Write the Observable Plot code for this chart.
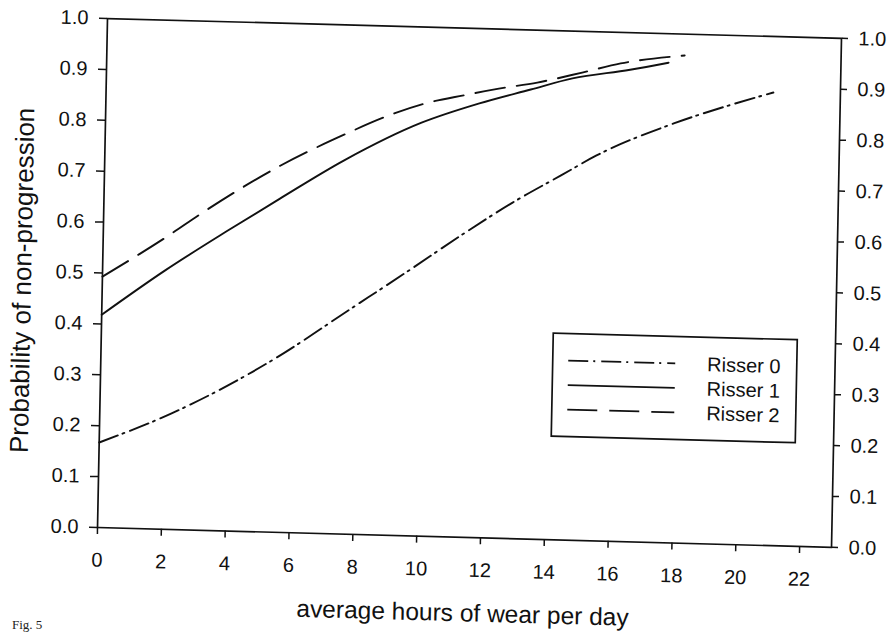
<!DOCTYPE html>
<html><head><meta charset="utf-8">
<script src="https://cdn.jsdelivr.net/npm/d3@7"></script>
<script src="https://cdn.jsdelivr.net/npm/@observablehq/plot@0.6"></script>
<style>
html,body{margin:0;padding:0;background:#fff;width:896px;height:634px;overflow:hidden}
#wrap{position:absolute;left:0;top:0;width:896px;height:634px;transform-origin:0 0;transform:matrix(1,0.027,-0.0196,1,0,0)}
#fig{position:absolute;left:12px;top:618px;font:13px "Liberation Serif","Times New Roman",serif;line-height:1;color:#222}
</style></head><body>
<div id="wrap"></div>
<div id="fig">Fig. 5</div>
<script>
// ---- data ----
const seriesNames = ["Risser 0", "Risser 1", "Risser 2"];

const risser0Hours = [0, 2.25, 4, 5.5, 7.8, 9.5, 11.3, 12.8, 14.3, 15.4, 17.8, 19.5, 20.9];
const risser0Prob  = [0.167, 0.228, 0.286, 0.343, 0.443, 0.517, 0.597, 0.66, 0.716, 0.757, 0.824, 0.862, 0.89];

const risser1Hours = [0, 1.95, 3.9, 5.5, 7.5, 9.9, 11.7, 13.3, 14.6, 16.4, 17.6];
const risser1Prob  = [0.418, 0.508, 0.59, 0.655, 0.734, 0.812, 0.853, 0.883, 0.907, 0.927, 0.943];

const risser2Hours = [0, 2, 3.1, 5.5, 7.5, 8.85, 10, 11.2, 12.3, 13.5, 14.9, 16.1, 18.1];
const risser2Prob  = [0.493, 0.575, 0.624, 0.72, 0.785, 0.824, 0.85, 0.868, 0.883, 0.897, 0.919, 0.939, 0.958];

const xTicks = [0, 2, 4, 6, 8, 10, 12, 14, 16, 18, 20, 22];
const yTicks = [0, 0.1, 0.2, 0.3, 0.4, 0.5, 0.6, 0.7, 0.8, 0.9, 1.0];
const xLabel = "average hours of wear per day";
const yLabel = "Probability of non-progression";

// ---- styles ----
const dashBySeries = {"Risser 0": "20,5,2,6", "Risser 1": null, "Risser 2": "30,12"};
const ink = "#111";
const font = "'Liberation Sans', Arial, Helvetica, sans-serif";

const hoursBySeries = [risser0Hours, risser1Hours, risser2Hours];
const probBySeries = [risser0Prob, risser1Prob, risser2Prob];
const rows = seriesNames.flatMap((s, i) =>
  hoursBySeries[i].map((h, j) => ({series: s, hours: h, prob: probBySeries[i][j]})));

const W = 896, H = 634;
const mL = 107.3, mT = 15.1, plotW = 734, plotH = 509;

const svg = Plot.plot({
  width: W, height: H,
  marginLeft: mL, marginTop: mT,
  marginRight: W - mL - plotW, marginBottom: H - mT - plotH,
  x: {domain: [0, 23]},
  y: {domain: [0, 1]},
  style: {fontFamily: font, fontSize: "20px", color: ink, background: "#fff"},
  marks: [
    Plot.axisX({ticks: xTicks, tickSize: 7, tickPadding: 18, label: null, fontSize: 20, tickFormat: d => String(d), strokeWidth: 1.5}),
    Plot.axisY({anchor: "left", ticks: yTicks, tickSize: 8, tickPadding: 11, label: null, fontSize: 20, tickFormat: d3.format(".1f"), strokeWidth: 1.5}),
    Plot.axisY({anchor: "right", ticks: yTicks, tickSize: 6, tickPadding: 11, label: null, fontSize: 20, tickFormat: d3.format(".1f"), strokeWidth: 1.5}),
    Plot.frame({stroke: ink, strokeWidth: 1.7}),
    ...seriesNames.map(s => Plot.line(rows.filter(r => r.series === s), {
      x: "hours", y: "prob", stroke: ink, strokeWidth: 1.9,
      strokeDasharray: dashBySeries[s] || undefined, curve: "monotone-x"
    }))
  ]
});

const g = d3.select(svg);
// axis titles
g.append("text")
  .attr("x", mL + plotW / 2).attr("y", 608.5)
  .attr("text-anchor", "middle").attr("font-size", 24.5).attr("fill", ink)
  .attr("font-family", font).text(xLabel);
g.append("text")
  .attr("transform", `translate(36.5,${mT + plotH / 2 + 10}) rotate(-90)`)
  .attr("text-anchor", "middle").attr("font-size", 26).attr("fill", ink)
  .attr("font-family", font).text(yLabel);

// legend box
const lg = g.append("g").attr("font-family", font).attr("font-size", 20).attr("fill", ink);
lg.append("rect").attr("x", 559.5).attr("y", 318).attr("width", 244).attr("height", 103)
  .attr("fill", "#fff").attr("stroke", ink).attr("stroke-width", 1.7);
seriesNames.forEach((s, i) => {
  const y = 345 + i * 24.5;
  lg.append("line").attr("x1", 575).attr("x2", 682).attr("y1", y).attr("y2", y)
    .attr("stroke", ink).attr("stroke-width", 1.8)
    .attr("stroke-dasharray", dashBySeries[s] || null);
  lg.append("text").attr("x", 714).attr("y", y).attr("dy", "0.35em")
    .attr("text-anchor", "start").text(s);
});

document.getElementById("wrap").appendChild(svg);
</script>
</body></html>
